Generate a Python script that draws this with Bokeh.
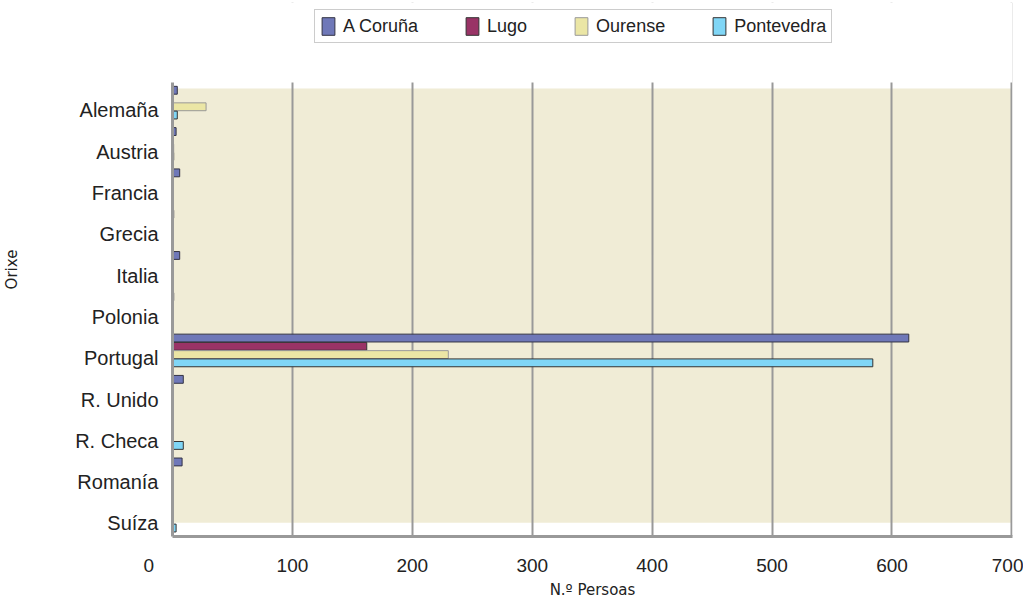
from bokeh.plotting import figure
from bokeh.models import (Range1d, FixedTicker, Legend, LegendItem, BoxAnnotation,
                          ColumnDataSource)
from bokeh.transform import dodge
from bokeh.embed import file_html
from bokeh.resources import INLINE

categories = ["Alemaña", "Austria", "Francia", "Grecia", "Italia", "Polonia",
              "Portugal", "R. Unido", "R. Checa", "Romanía", "Suíza"]
a_coruna   = [4, 3, 6, 1, 6, 1, 614, 9, 0, 8, 0]
lugo       = [0, 0, 0, 0, 0, 0, 162, 0, 0, 0, 0]
ourense    = [28, 1, 0, 0, 0, 0, 230, 0, 0, 0, 0]
pontevedra = [4, 1, 0, 0, 0, 0, 584, 0, 9, 0, 3]
series_names = ["A Coruña", "Lugo", "Ourense", "Pontevedra"]
x_ticks = [0, 100, 200, 300, 400, 500, 600, 700]

colors = ["#6f78b8", "#993366", "#ebe6a5", "#80d6f6"]
outlines = ["#333344", "#333333", "#999999", "#333333"]
FONT = "Liberation Sans"

pos = list(range(len(categories)))
src = ColumnDataSource(dict(k=pos, ac=a_coruna, lu=lugo, ou=ourense, po=pontevedra))

Y_TOP = -0.678
p = figure(frame_width=840, frame_height=534, output_backend="svg", toolbar_location=None,
           x_range=Range1d(0, 700.5), y_range=Range1d(10.315, Y_TOP - 1.937),
           min_border_left=165, min_border_right=11, min_border_top=2,
           min_border_bottom=51, outline_line_color=None)

p.background_fill_color = "white"
p.add_layout(BoxAnnotation(left=0, right=700, top=-0.533, bottom=9.98,
                           fill_color="#f0ecd6", fill_alpha=1, line_color=None,
                           level="image"))

cols = ["ac", "lu", "ou", "po"]
offsets = [-0.49, -0.29, -0.09, 0.11]
renderers = []
for c, off, fc, lc in zip(cols, offsets, colors, outlines):
    r = p.hbar(y=dodge("k", off, range=p.y_range), left=0, right=c, height=0.19,
               source=src, fill_color=fc, line_color=lc, line_width=1)
    renderers.append(r)

# axes
p.xaxis.ticker = FixedTicker(ticks=x_ticks)
p.xaxis.major_label_overrides = {0: "0" + "\u00a0" * 9}
p.yaxis.ticker = FixedTicker(ticks=pos)
p.yaxis.major_label_overrides = {i: c for i, c in enumerate(categories)}
p.yaxis.bounds = (Y_TOP, 10.315)
for ax in (p.xaxis[0], p.yaxis[0]):
    ax.axis_line_color = "#999999"
    ax.axis_line_width = 3
    ax.major_tick_line_color = None
    ax.minor_tick_line_color = None
    ax.major_label_text_font = FONT
    ax.major_label_text_color = "#222222"
p.yaxis.major_label_text_font_size = "20px"
p.yaxis.major_label_standoff = 8
p.xaxis.major_label_text_font_size = "19px"
p.xaxis.major_label_standoff = 12

p.xaxis.axis_label = "N.º Persoas"
p.yaxis.axis_label = "Orixe"
for ax in (p.xaxis[0], p.yaxis[0]):
    ax.axis_label_text_font = "DejaVu Sans"
    ax.axis_label_text_font_size = "15px"
    ax.axis_label_text_font_style = "normal"
    ax.axis_label_text_color = "#222222"
p.xaxis.axis_label_standoff = 2
p.yaxis.axis_label_standoff = 51

p.xgrid.ticker = FixedTicker(ticks=x_ticks[1:])
p.xgrid.grid_line_color = "#999999"
p.xgrid.grid_line_width = 2
p.ygrid.grid_line_color = None

# white band above the plotting area (hides grid lines there)
p.add_layout(BoxAnnotation(bottom=Y_TOP, fill_color="white", fill_alpha=1,
                           line_color=None, level="underlay"))

legend = Legend(items=[LegendItem(label=n, renderers=[r]) for n, r in zip(series_names, renderers)],
                orientation="horizontal", location=(142, 493))
legend.glyph_width = 16
legend.glyph_height = 22
legend.label_standoff = 7
legend.spacing = 46
legend.padding = 5
legend.margin = 0
legend.label_text_font = FONT
legend.label_text_font_size = "18px"
legend.label_text_color = "#222222"
legend.border_line_color = "#999999"
legend.border_line_width = 1
legend.background_fill_color = "white"
p.add_layout(legend)

open("out.html", "w").write(file_html(p, INLINE))
